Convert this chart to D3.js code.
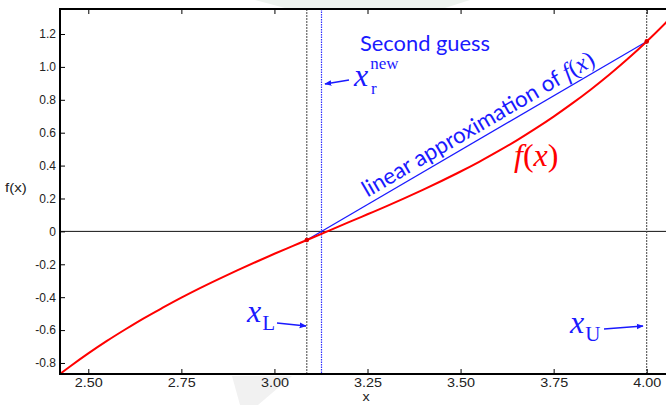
<!DOCTYPE html>
<html><head><meta charset="utf-8">
<script src="https://cdn.jsdelivr.net/npm/d3@7"></script>
<style>
body{margin:0;background:#fff;}
svg{display:block;}
</style></head>
<body>
<svg id="chart" width="666" height="405"></svg>
<script>
// ---- data ----
const xValues = [2.40,2.45,2.50,2.55,2.60,2.65,2.70,2.75,2.80,2.85,2.90,2.95,3.00,3.05,3.10,3.15,3.20,3.25,3.30,3.35,3.40,3.45,3.50,3.55,3.60,3.65,3.70,3.75,3.80,3.85,3.90,3.95,4.00,4.05,4.10];
const fValues = [-0.908,-0.823,-0.742,-0.666,-0.595,-0.527,-0.464,-0.403,-0.345,-0.290,-0.237,-0.186,-0.136,-0.088,-0.040,0.008,0.056,0.104,0.152,0.202,0.254,0.308,0.364,0.423,0.486,0.552,0.623,0.698,0.778,0.863,0.954,1.051,1.155,1.266,1.385];
const xL = 3.087, fL = -0.052;
const xU = 4.0, fU = 1.155;
const xR = 3.126;
const xTicks = [2.50,2.75,3.00,3.25,3.50,3.75,4.00];
const xTickLabels = ["2.50","2.75","3.00","3.25","3.50","3.75","4.00"];
const yTicks = [-0.8,-0.6,-0.4,-0.2,0,0.2,0.4,0.6,0.8,1.0,1.2];
const yTickLabels = ["-0.8","-0.6","-0.4","-0.2","0","0.2","0.4","0.6","0.8","1.0","1.2"];

const svg = d3.select("#chart");
const L = 60, R = 666, T = 9, B = 374;
const x = d3.scaleLinear().domain([2.424, 4.0518]).range([L, R]);
const y = d3.scaleLinear().domain([-0.867, 1.352]).range([B, T]);

// faint watermark shapes
svg.append("polygon").attr("points","255,0 470,0 445,8 285,8").attr("fill","#eef3ef");
svg.append("polygon").attr("points","232,376 292,376 258,405 240,405").attr("fill","#f1f1f1");

const defs = svg.append("defs");
defs.append("clipPath").attr("id","clip").append("rect")
  .attr("x",L).attr("y",T).attr("width",R-L).attr("height",B-T);
defs.append("marker").attr("id","arr").attr("viewBox","0 0 10 10")
  .attr("refX",9).attr("refY",5).attr("markerWidth",7).attr("markerHeight",7)
  .attr("markerUnits","userSpaceOnUse").attr("orient","auto")
  .append("path").attr("d","M0,1 L10,5 L0,9 Z").attr("fill","#1a1aff");

const g = svg.append("g").attr("clip-path","url(#clip)");

// zero line
g.append("line").attr("x1",L).attr("x2",R).attr("y1",y(0)).attr("y2",y(0))
  .attr("stroke","#111").attr("stroke-width",1);

// vertical dashed lines
[xL, xU].forEach(v => {
  g.append("line").attr("x1",x(v)).attr("x2",x(v)).attr("y1",T).attr("y2",B)
    .attr("stroke","#444").attr("stroke-width",1).attr("stroke-dasharray","2,1");
});
g.append("line").attr("x1",Math.round(x(xR))+0.5).attr("x2",Math.round(x(xR))+0.5).attr("y1",T).attr("y2",B)
  .attr("stroke","#3030ff").attr("stroke-width",1.2).attr("stroke-dasharray","1.5,1");

// linear approximation
g.append("line").attr("x1",x(xL)).attr("y1",y(fL)).attr("x2",x(xU)).attr("y2",y(fU))
  .attr("stroke","#1a1aff").attr("stroke-width",1.2);

// function curve
const line = d3.line().x((d,i)=>x(xValues[i])).y(d=>y(d)).curve(d3.curveCatmullRom);
g.append("path").datum(fValues).attr("d",line).attr("fill","none")
  .attr("stroke","#ff0000").attr("stroke-width",2);

// points
[[xL,fL],[xU,fU]].forEach(p => {
  g.append("circle").attr("cx",x(p[0])).attr("cy",y(p[1])).attr("r",2.3)
    .attr("fill","#e00000");
});

// axes frame
const axisColor = "#000";
svg.append("line").attr("x1",L).attr("x2",R).attr("y1",T).attr("y2",T).attr("stroke",axisColor).attr("stroke-width",2);
svg.append("line").attr("x1",L).attr("x2",R).attr("y1",B).attr("y2",B).attr("stroke",axisColor).attr("stroke-width",2);
svg.append("line").attr("x1",L).attr("x2",L).attr("y1",T-1).attr("y2",B+1).attr("stroke",axisColor).attr("stroke-width",2);

const font = "'Liberation Sans', Arial, sans-serif";
const xAxis = d3.axisBottom(x).tickValues(xTicks).tickFormat((d,i)=>xTickLabels[i]).tickSizeInner(-5).tickSizeOuter(0).tickPadding(4);
const gx = svg.append("g").attr("transform",`translate(0,${B})`).call(xAxis);
gx.select(".domain").remove();
gx.selectAll("text").attr("font-family",font).attr("font-size",12).attr("fill","#222")
  .attr("transform","scale(1.2,1)");
gx.selectAll("line").attr("stroke","#000");

const xTop = d3.axisTop(x).tickValues(xTicks).tickFormat("").tickSizeInner(-5).tickSizeOuter(0);
const gt = svg.append("g").attr("transform",`translate(0,${T})`).call(xTop);
gt.select(".domain").remove();

const yAxis = d3.axisLeft(y).tickValues(yTicks).tickFormat((d,i)=>yTickLabels[i]).tickSizeInner(-5).tickSizeOuter(0).tickPadding(4);
const gy = svg.append("g").attr("transform",`translate(${L},0)`).call(yAxis);
gy.select(".domain").remove();
gy.selectAll("text").attr("font-family",font).attr("font-size",12).attr("fill","#222");

svg.append("text").attr("transform","translate(366,401) scale(1.2,1)").attr("text-anchor","middle")
  .attr("font-family",font).attr("font-size",12).attr("fill","#222").text("x");
svg.append("text").attr("transform","translate(5,192) scale(1.25,1)")
  .attr("font-family",font).attr("font-size",12).attr("fill","#222").text("f(x)");

// annotations
const blue = "#1a1aff";
const sans = "Lato, 'Open Sans', sans-serif";
const serif = "'Liberation Serif', 'DejaVu Serif', serif";

svg.append("text").attr("x",360).attr("y",51).attr("font-family",sans)
  .attr("font-size",21).attr("textLength",130).attr("lengthAdjust","spacingAndGlyphs")
  .attr("fill",blue).text("Second guess");

function xlabel(px, py, sub, supText) {
  const t = svg.append("text").attr("x",px).attr("y",py).attr("font-family",serif).attr("fill",blue);
  t.append("tspan").attr("font-style","italic").attr("font-size",32).text("x");
  if (supText) {
    t.append("tspan").attr("font-size",17).attr("dy",-17).attr("dx",2).text(supText);
    t.append("tspan").attr("font-size",17).attr("x",px+17).attr("dy",25).text(sub);
  } else {
    t.append("tspan").attr("font-size",21).attr("dy",8).attr("dx",1).text(sub);
  }
}
xlabel(354, 86, "r", "new");
xlabel(247, 322, "L");
xlabel(570, 333, "U");

function arrow(x1,y1,x2,y2){
  svg.append("line").attr("x1",x1).attr("y1",y1).attr("x2",x2).attr("y2",y2)
    .attr("stroke",blue).attr("stroke-width",1.6).attr("marker-end","url(#arr)");
}
arrow(349,80,325,84);
arrow(277,323,306,326);
arrow(604,329,643,326);

// rotated label along linear approximation
const ang = Math.atan2(y(fL)-y(fU), x(xU)-x(xL)) * 180/Math.PI;
const sx = 3.258, sy = fL + (fU-fL)*(sx-xL)/(xU-xL);
const lt = svg.append("text").attr("transform",`translate(${x(sx)},${y(sy)}) rotate(${-ang})`)
  .attr("dy",-6).attr("font-family",sans).attr("font-size",22.4).attr("fill",blue);
lt.append("tspan").text("linear approximation of ");
lt.append("tspan").attr("font-family",serif).attr("font-style","italic").attr("font-size",24).text("f");
lt.append("tspan").attr("font-family",serif).attr("font-size",24).text("(");
lt.append("tspan").attr("font-family",serif).attr("font-style","italic").attr("font-size",24).text("x");
lt.append("tspan").attr("font-family",serif).attr("font-size",24).text(")");

// f(x) label
const fx = svg.append("text").attr("x",514).attr("y",166).attr("font-family",serif)
  .attr("font-size",32).attr("fill","#ff0000");
fx.append("tspan").attr("font-style","italic").text("f");
fx.append("tspan").text("(");
fx.append("tspan").attr("font-style","italic").text("x");
fx.append("tspan").text(")");
</script>
</body></html>
